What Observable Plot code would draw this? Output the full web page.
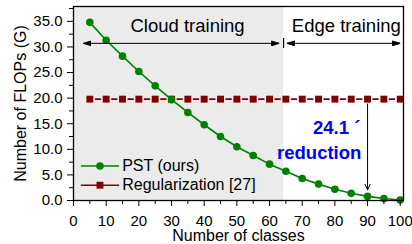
<!DOCTYPE html>
<html><head><meta charset="utf-8">
<script src="https://cdn.jsdelivr.net/npm/d3@7"></script>
<script src="https://cdn.jsdelivr.net/npm/@observablehq/plot@0.6"></script>
<style>
html,body{margin:0;padding:0;background:#fff;}
#chart{width:412px;height:244px;overflow:hidden;}
</style></head><body><div id="chart"></div>
<script>
// ---- data ----
const classes = [5,10,15,20,25,30,35,40,45,50,55,60,65,70,75,80,85,90,95,100];
const pstFlops = [34.8,31.3,28.2,25.2,22.4,19.7,17.2,14.8,12.5,10.5,8.8,7.1,5.7,4.3,3.2,2.2,1.4,0.8,0.4,0.1];
const regFlops = [19.8,19.8,19.8,19.8,19.8,19.8,19.8,19.8,19.8,19.8,19.8,19.8,19.8,19.8,19.8,19.8,19.8,19.8,19.8,19.8];
const seriesNames = ["PST (ours)", "Regularization [27]"];
const xTicks = [0,10,20,30,40,50,60,70,80,90,100];
const xMinorTicks = [5,15,25,35,45,55,65,75,85,95];
const yTicks = [0,5,10,15,20,25,30,35];
const yMinorTicks = [2.5,7.5,12.5,17.5,22.5,27.5,32.5,37.5];
const xTitle = "Number of classes";
const yTitle = "Number of FLOPs (G)";
const phaseLabels = ["Cloud training", "Edge training"];
const reductionLabel = ["24.1 \u00b4", "reduction"];
const cloudEnd = 64.3;       // boundary between cloud and edge training (classes)
const reductionAt = 90;      // class count of the reduction arrow

// ---- annotation placement (data units) ----
const phaseArrowY = 30.7;
const phaseLabelY = 34.15;
const phaseLabelX = [34.9, 83.5];
const cloudArrow = [3.0, 63.0];
const edgeArrow = [65.3, 100.0];
const dividerY = [29.8, 31.75];
const reductionArrowY = [18.86, 2.09];
const legendLineX = [2.24, 13.96];
const legendMarkX = 8.1;
const legendTextX = 14.9;
const legendY = [6.73, 2.99];

const green = "#008000", maroon = "#800000", blue = "#0000ff";
const font = "'Liberation Sans', Arial, Helvetica, sans-serif";

const rows = (ys) => classes.map((c, i) => ({c, v: ys[i]}));
const pst = rows(pstFlops), reg = rows(regFlops);

function solidArrow(color, context) {
  const doc = (context && context.document) || document;
  const ns = "http://www.w3.org/2000/svg";
  const m = doc.createElementNS(ns, "marker");
  m.setAttribute("viewBox", "0 -3 8 6");
  m.setAttribute("refX", "8");
  m.setAttribute("refY", "0");
  m.setAttribute("markerWidth", "8");
  m.setAttribute("markerHeight", "6");
  m.setAttribute("markerUnits", "userSpaceOnUse");
  m.setAttribute("orient", "auto-start-reverse");
  const p = doc.createElementNS(ns, "path");
  p.setAttribute("d", "M0,-2.4L8,0L0,2.4Z");
  p.setAttribute("fill", "black");
  m.appendChild(p);
  return m;
}

const one = [0];
const chart = Plot.plot({
  width: 412, height: 244,
  marginLeft: 73, marginRight: 9, marginTop: 6, marginBottom: 44,
  x: {domain: [0, 101]},
  y: {domain: [0, 37.9]},
  style: {fontFamily: font, fontSize: "15px", color: "black", background: "white"},
  marks: [
    Plot.rect(one, {x1: 0, x2: cloudEnd, fill: "#ebebeb"}),
    // Regularization
    Plot.line(reg, {x: "c", y: "v", stroke: maroon, strokeWidth: 1.6, strokeDasharray: "5 11.33", strokeDashoffset: 10.67}),
    Plot.dot(reg, {x: "c", y: "v", symbol: "square", r: 3.9, fill: maroon, stroke: "none"}),
    // PST
    Plot.line(pst, {x: "c", y: "v", stroke: green, strokeWidth: 1.6}),
    Plot.dot(pst, {x: "c", y: "v", r: 3.8, fill: green, stroke: "none"}),
    // phase arrows
    Plot.link(one, {x1: cloudArrow[0], x2: cloudArrow[1], y1: phaseArrowY, y2: phaseArrowY, stroke: "black", strokeWidth: 1, markerStart: solidArrow, markerEnd: solidArrow}),
    Plot.link(one, {x1: edgeArrow[0], x2: edgeArrow[1], y1: phaseArrowY, y2: phaseArrowY, stroke: "black", strokeWidth: 1, markerStart: solidArrow, markerEnd: solidArrow}),
    Plot.link(one, {x1: cloudEnd, x2: cloudEnd, y1: dividerY[0], y2: dividerY[1], stroke: "black", strokeWidth: 1.2}),
    Plot.text(phaseLabels, {x: (d, i) => phaseLabelX[i], y: phaseLabelY, text: d => d, fontSize: 18.5, fill: "black"}),
    // reduction annotation
    Plot.arrow(one, {x1: reductionAt, x2: reductionAt, y1: reductionArrowY[0], y2: reductionArrowY[1], stroke: "black", strokeWidth: 1, headLength: 9, headAngle: 50}),
    Plot.text([reductionLabel[0]], {x: 73.3, y: 14.2, text: d => d, textAnchor: "start", fontSize: 18.5, fontWeight: "bold", fill: blue}),
    Plot.text([reductionLabel[1]], {x: 75.2, y: 9.34, text: d => d, fontSize: 18.5, fontWeight: "bold", fill: blue}),
    // legend
    Plot.link(one, {x1: legendLineX[0], x2: legendLineX[1], y1: legendY[0], y2: legendY[0], stroke: green, strokeWidth: 1.6}),
    Plot.dot(one, {x: legendMarkX, y: legendY[0], r: 3.8, fill: green, stroke: "none"}),
    Plot.link(one, {x1: legendLineX[0], x2: legendLineX[1], y1: legendY[1], y2: legendY[1], stroke: maroon, strokeWidth: 1.6}),
    Plot.dot(one, {x: legendMarkX, y: legendY[1], symbol: "square", r: 3.9, fill: maroon, stroke: "none"}),
    Plot.text(seriesNames, {x: legendTextX, y: (d, i) => legendY[i], text: d => d, textAnchor: "start", fontSize: 16, fill: "black"}),
    // axes
    Plot.axisX(xTicks, {tickSize: 6, tickPadding: 8.5, tickFormat: d => String(d), label: null, stroke: "black", fill: "black"}),
    Plot.axisX(xMinorTicks, {tickSize: 4, tickFormat: () => "", label: null, stroke: "black"}),
    Plot.axisY(yTicks, {tickSize: 6, tickPadding: 5, tickFormat: d => d.toFixed(1), label: null, stroke: "black", fill: "black"}),
    Plot.axisY(yMinorTicks.filter(d => d < 37.9), {tickSize: 4, tickFormat: () => "", label: null, stroke: "black"}),
    Plot.text([xTitle], {frameAnchor: "bottom", dy: 35.3, textAnchor: "middle", lineAnchor: "middle", text: d => d, fontSize: 16, fill: "black"}),
    Plot.text([yTitle], {frameAnchor: "left", dx: -52.7, rotate: -90, textAnchor: "middle", lineAnchor: "middle", text: d => d, fontSize: 16, fill: "black"}),
    Plot.frame({stroke: "black", strokeWidth: 1.3})
  ]
});
document.getElementById("chart").appendChild(chart);
</script>
</body></html>
